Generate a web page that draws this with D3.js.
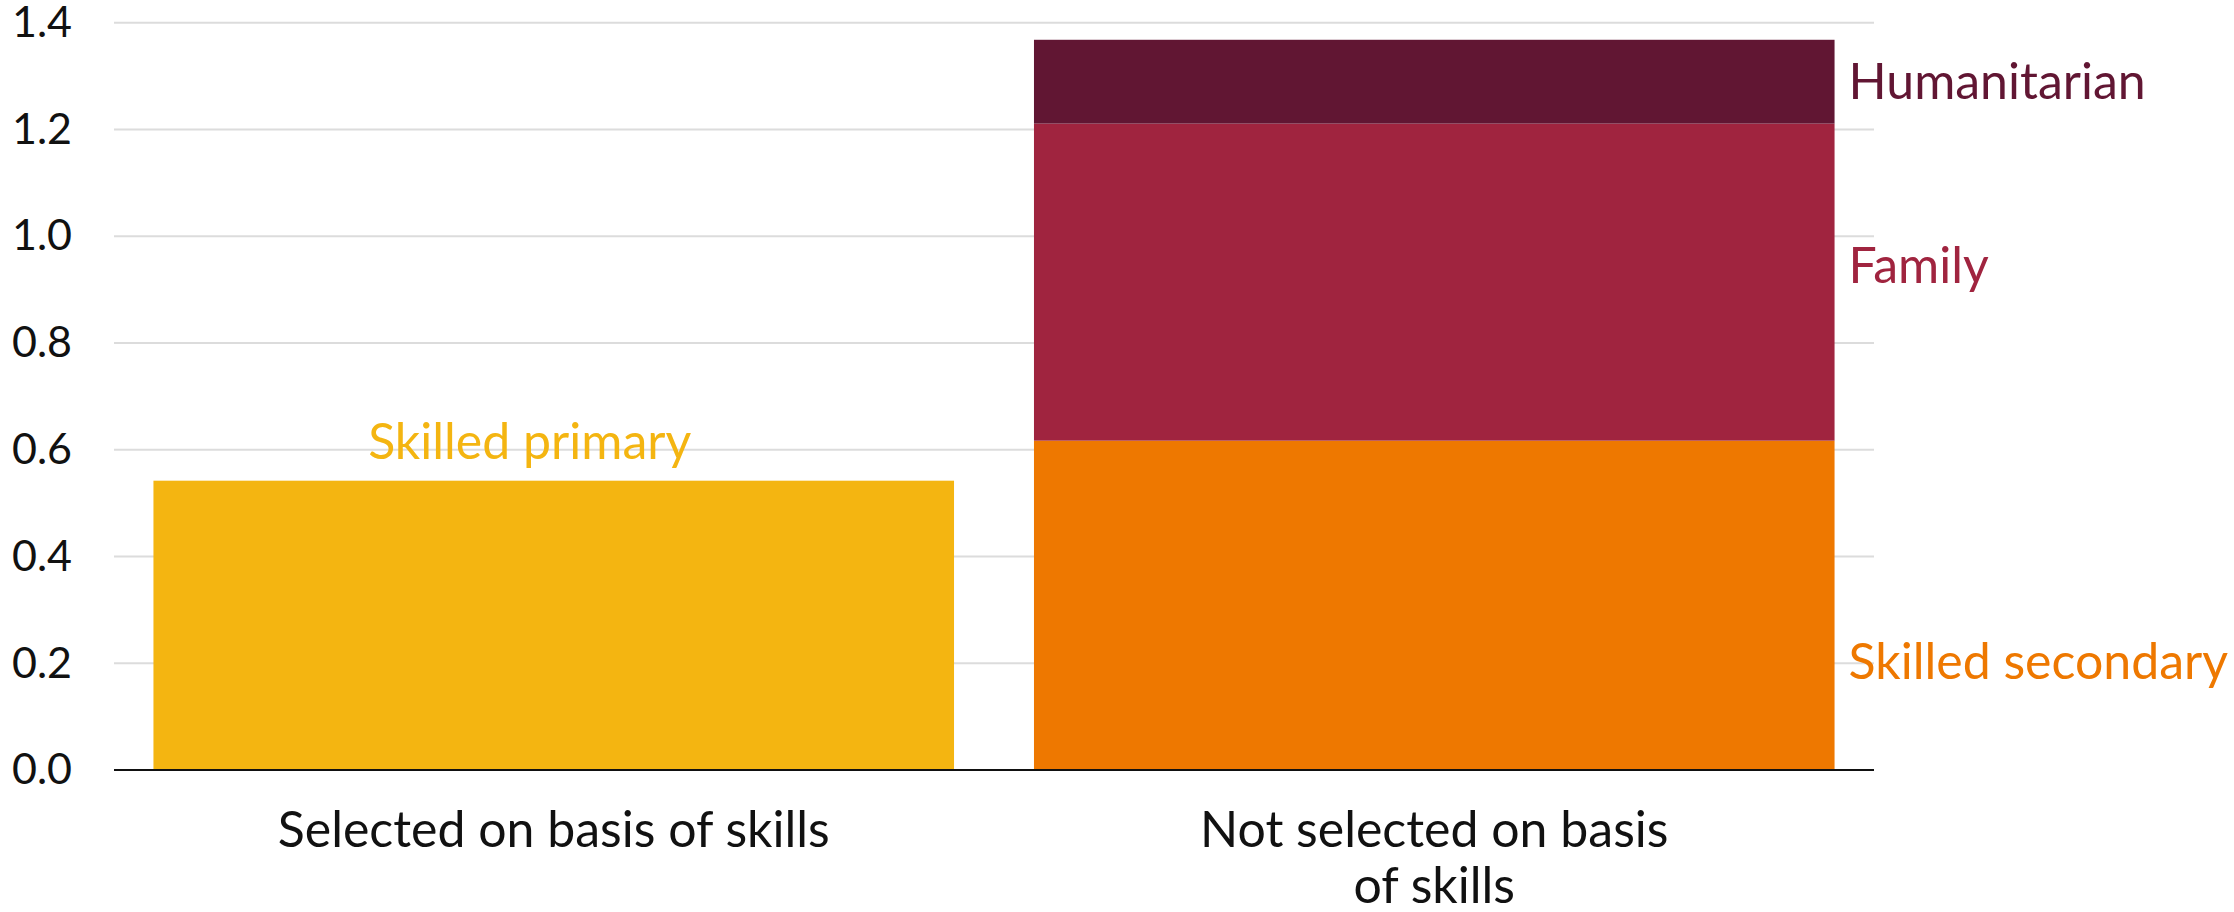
<!DOCTYPE html>
<html>
<head>
<script src="https://cdnjs.cloudflare.com/ajax/libs/d3/7.8.5/d3.min.js"></script>
  <meta charset="utf-8">
  <title>Selected on basis of skills</title>
</head>
<style>
body { margin: 0; background: #fff; }
svg { font-family: Lato, "Open Sans", sans-serif; }
.grid line { stroke: #dcdcdc; stroke-width: 2; }
</style>
<body>
<script>

// categories and stacked series
var categories = ["Selected on basis of skills", "Not selected on basis of skills"];
var categoryLines = [["Selected on basis of skills"], ["Not selected on basis", "of skills"]];
var series = ["Skilled primary", "Skilled secondary", "Family", "Humanitarian"];
var skilledPrimary   = [0.542, 0];
var skilledSecondary = [0, 0.617];
var family           = [0, 0.594];
var humanitarian     = [0, 0.157];
var yTicks = [0, 0.2, 0.4, 0.6, 0.8, 1.0, 1.2, 1.4];
// where each series label sits: [category index, value]
var labelAt = [[0, 0.615], [1, 0.204], [1, 0.945], [1, 1.29]];

var colors = ["#F4B511", "#EE7800", "#A0243F", "#611633"];

var W = 2234, H = 912;
var left = 114, plotRight = 1874, y0 = 770, y14 = 22.7;

var rows = categories.map(function(c, i) {
  return {
    cat: c,
    "Skilled primary": skilledPrimary[i],
    "Skilled secondary": skilledSecondary[i],
    "Family": family[i],
    "Humanitarian": humanitarian[i]
  };
});

var stacked = d3.stack().keys(series)(rows);

var x = d3.scaleBand()
  .domain(categories)
  .range([left, plotRight])
  .paddingInner(0.0908)
  .paddingOuter(0.0448);

var y = d3.scaleLinear()
  .domain([0, 1.4])
  .range([y0, y14]);

var svg = d3.select("body").append("svg")
  .attr("width", W)
  .attr("height", H);

// gridlines
svg.append("g")
  .attr("class", "grid")
  .selectAll("line")
  .data(yTicks.slice(1))
  .enter().append("line")
  .attr("x1", left)
  .attr("x2", plotRight)
  .attr("y1", function(d) { return y(d); })
  .attr("y2", function(d) { return y(d); });

// y axis labels
var yAxis = d3.axisLeft(y)
  .tickValues(yTicks)
  .tickFormat(d3.format(".1f"))
  .tickSize(0)
  .tickPadding(42);

var gy = svg.append("g")
  .attr("transform", "translate(" + left + ",0)")
  .call(yAxis);
gy.select(".domain").remove();
gy.selectAll("text")
  .style("font-size", "43px")
  .style("font-family", "Lato, sans-serif")
  .attr("fill", "#111");

// bars
svg.append("g")
  .selectAll("g")
  .data(stacked)
  .enter().append("g")
  .attr("fill", function(d, i) { return colors[i]; })
  .selectAll("rect")
  .data(function(d) { return d; })
  .enter().append("rect")
  .attr("x", function(d) { return x(d.data.cat); })
  .attr("width", x.bandwidth())
  .attr("y", function(d) { return y(d[1]); })
  .attr("height", function(d) { return y(d[0]) - y(d[1]); });

// baseline
svg.append("line")
  .attr("x1", left)
  .attr("x2", plotRight)
  .attr("y1", y(0))
  .attr("y2", y(0))
  .attr("stroke", "#111")
  .attr("stroke-width", 2);

// category labels
svg.append("g")
  .selectAll("text")
  .data(categories)
  .enter().append("text")
  .attr("y", 847)
  .attr("text-anchor", "middle")
  .style("font-size", "50px")
  .attr("fill", "#111")
  .each(function(d, i) {
    var t = d3.select(this);
    categoryLines[i].forEach(function(line, j) {
      t.append("tspan")
        .attr("x", x(d) + x.bandwidth() / 2)
        .attr("dy", j ? 56 : 0)
        .text(line);
    });
  });

// series labels
svg.append("g")
  .selectAll("text")
  .data(series)
  .enter().append("text")
  .attr("x", function(d, i) {
    var c = categories[labelAt[i][0]];
    return labelAt[i][0] === 0 ? x(c) + x.bandwidth() * 0.47 : x(c) + x.bandwidth() + 14;
  })
  .attr("y", function(d, i) { return y(labelAt[i][1]); })
  .attr("dy", "0.35em")
  .attr("text-anchor", function(d, i) { return labelAt[i][0] === 0 ? "middle" : "start"; })
  .style("font-size", "50px")
  .attr("fill", function(d, i) { return colors[i]; })
  .text(function(d) { return d; });

</script>
</body>
</html>
